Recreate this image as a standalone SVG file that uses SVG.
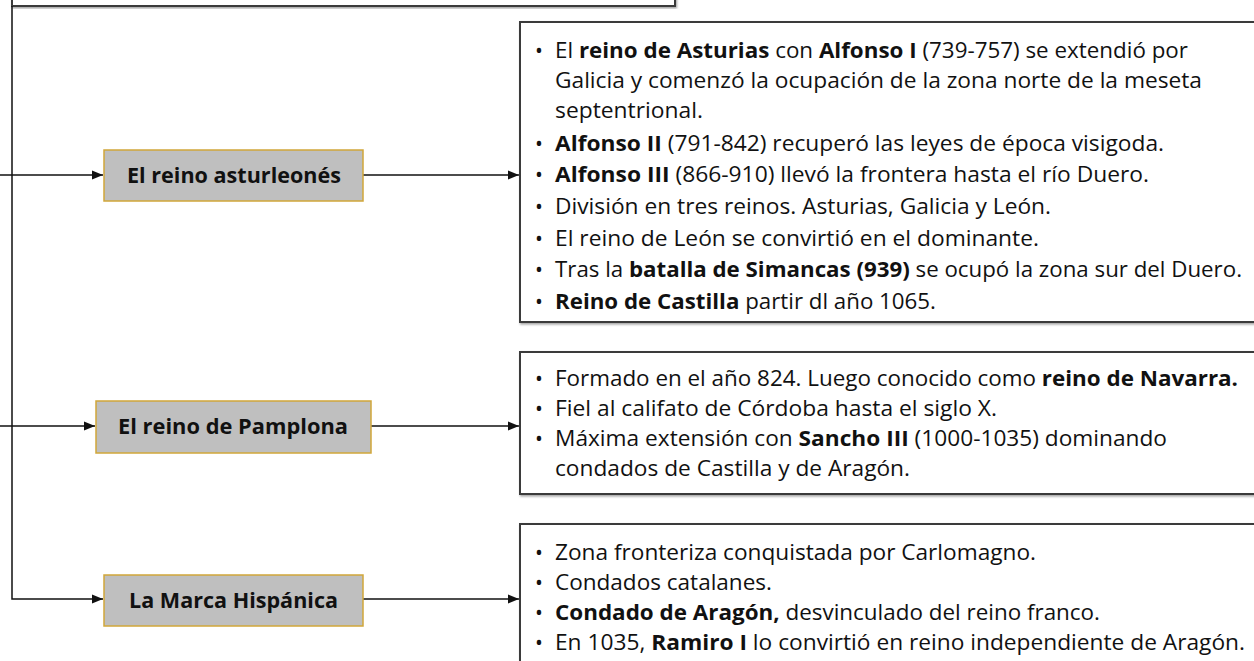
<svg xmlns="http://www.w3.org/2000/svg" width="1254" height="661" viewBox="0 0 1254 661">
<style>
.box{fill:#fff;stroke:#3a3a3a;stroke-width:2;filter:url(#sh)}
.node{fill:#bfbfbf;stroke:#d1a73a;stroke-width:1.5}
.nt{font-family:"Open Sans","Noto Sans",sans-serif;font-weight:bold;font-size:21px;fill:#111}
.t{font-family:"Open Sans","Noto Sans",sans-serif;font-size:21px;fill:#111}
.b{font-weight:bold}
.con{fill:none;stroke:#111;stroke-width:1.5}
</style>
<defs>
<filter id="sh" x="-5%" y="-5%" width="110%" height="110%"><feDropShadow dx="1" dy="1.5" stdDeviation="0.8" flood-color="#888" flood-opacity="0.8"/></filter>
<marker id="ah" markerUnits="userSpaceOnUse" markerWidth="12" markerHeight="10" refX="11" refY="5" orient="auto"><path d="M0,0.5 L11,5 L0,9.5 Z" fill="#111"/></marker>
</defs>
<g id="top-box"><rect class="box" x="12" y="-40" width="663" height="46"/></g>
<g id="connectors">
<path class="con" d="M12,6 V599 H103" marker-end="url(#ah)"/>
<path class="con" d="M0,175 H103" marker-end="url(#ah)"/>
<path class="con" d="M0,426 H95" marker-end="url(#ah)"/>
<path class="con" d="M363,175 H519" marker-end="url(#ah)"/>
<path class="con" d="M371,426 H519" marker-end="url(#ah)"/>
<path class="con" d="M363,599 H519" marker-end="url(#ah)"/>
</g>
<g id="node-asturleones"><rect class="node" x="104" y="150" width="259" height="51"/><text class="nt" x="127" y="183" textLength="214" lengthAdjust="spacingAndGlyphs">El reino asturleonés</text></g>
<g id="node-pamplona"><rect class="node" x="96" y="401" width="275" height="52"/><text class="nt" x="118" y="434" textLength="230" lengthAdjust="spacingAndGlyphs">El reino de Pamplona</text></g>
<g id="node-marca"><rect class="node" x="104" y="575" width="259" height="51"/><text class="nt" x="129" y="608" textLength="209" lengthAdjust="spacingAndGlyphs">La Marca Hispánica</text></g>
<g id="box-asturleones">
<rect class="box" x="520" y="22" width="760" height="300"/>
<g class="t">
<text x="535" y="58">•</text><text x="555" y="58" textLength="633" lengthAdjust="spacingAndGlyphs"><tspan>El </tspan><tspan class="b">reino de Asturias</tspan><tspan> con </tspan><tspan class="b">Alfonso I</tspan><tspan> (739-757) se extendió por</tspan></text>
<text x="555" y="88" textLength="647" lengthAdjust="spacingAndGlyphs">Galicia y comenzó la ocupación de la zona norte de la meseta</text>
<text x="555" y="118" textLength="148" lengthAdjust="spacingAndGlyphs">septentrional.</text>
<text x="535" y="151">•</text><text x="555" y="151" textLength="609" lengthAdjust="spacingAndGlyphs"><tspan class="b">Alfonso II</tspan><tspan> (791-842) recuperó las leyes de época visigoda.</tspan></text>
<text x="535" y="182">•</text><text x="555" y="182" textLength="594" lengthAdjust="spacingAndGlyphs"><tspan class="b">Alfonso III</tspan><tspan> (866-910) llevó la frontera hasta el río Duero.</tspan></text>
<text x="535" y="214">•</text><text x="555" y="214" textLength="496" lengthAdjust="spacingAndGlyphs">División en tres reinos. Asturias, Galicia y León.</text>
<text x="535" y="246">•</text><text x="555" y="246" textLength="484" lengthAdjust="spacingAndGlyphs">El reino de León se convirtió en el dominante.</text>
<text x="535" y="277">•</text><text x="555" y="277" textLength="687" lengthAdjust="spacingAndGlyphs"><tspan>Tras la </tspan><tspan class="b">batalla de Simancas (939)</tspan><tspan> se ocupó la zona sur del Duero.</tspan></text>
<text x="535" y="309">•</text><text x="555" y="309" textLength="381" lengthAdjust="spacingAndGlyphs"><tspan class="b">Reino de Castilla</tspan><tspan> partir dl año 1065.</tspan></text>
</g>
</g>
<g id="box-pamplona">
<rect class="box" x="520" y="352" width="760" height="142"/>
<g class="t">
<text x="535" y="386">•</text><text x="555" y="386" textLength="683" lengthAdjust="spacingAndGlyphs"><tspan>Formado en el año 824. Luego conocido como </tspan><tspan class="b">reino de Navarra.</tspan></text>
<text x="535" y="416">•</text><text x="555" y="416" textLength="442" lengthAdjust="spacingAndGlyphs">Fiel al califato de Córdoba hasta el siglo X.</text>
<text x="535" y="446">•</text><text x="555" y="446" textLength="612" lengthAdjust="spacingAndGlyphs"><tspan>Máxima extensión con </tspan><tspan class="b">Sancho III</tspan><tspan> (1000-1035) dominando</tspan></text>
<text x="555" y="476" textLength="355" lengthAdjust="spacingAndGlyphs">condados de Castilla y de Aragón.</text>
</g>
</g>
<g id="box-marca">
<rect class="box" x="520" y="524" width="760" height="160"/>
<g class="t">
<text x="535" y="560">•</text><text x="555" y="560" textLength="481" lengthAdjust="spacingAndGlyphs">Zona fronteriza conquistada por Carlomagno.</text>
<text x="535" y="590">•</text><text x="555" y="590" textLength="217" lengthAdjust="spacingAndGlyphs">Condados catalanes.</text>
<text x="535" y="620">•</text><text x="555" y="620" textLength="545" lengthAdjust="spacingAndGlyphs"><tspan class="b">Condado de Aragón,</tspan><tspan> desvinculado del reino franco.</tspan></text>
<text x="535" y="650">•</text><text x="555" y="650" textLength="690" lengthAdjust="spacingAndGlyphs"><tspan>En 1035, </tspan><tspan class="b">Ramiro I</tspan><tspan> lo convirtió en reino independiente de Aragón.</tspan></text>
</g>
</g>
</svg>
